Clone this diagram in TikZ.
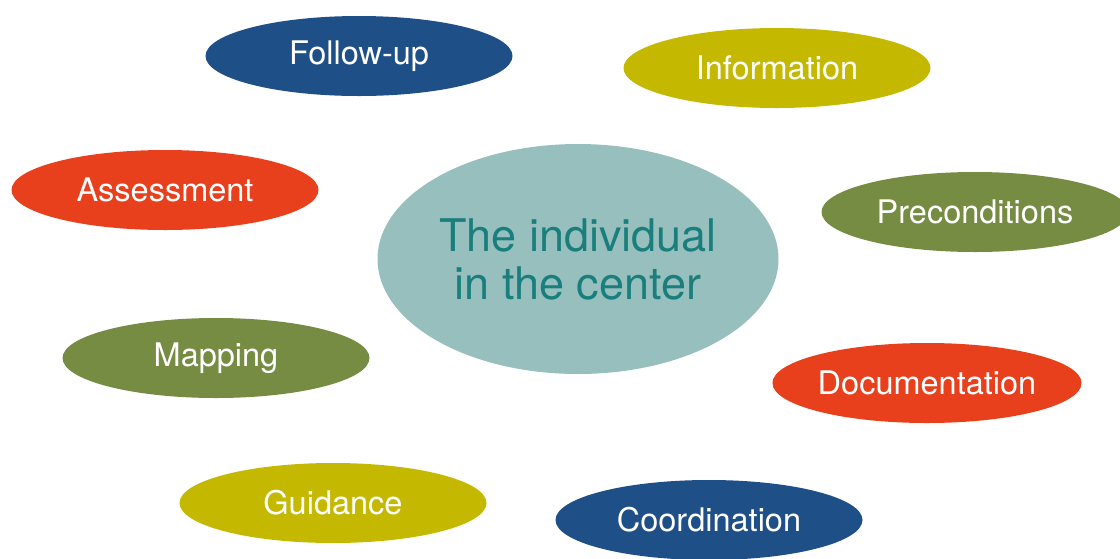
\documentclass[tikz,border=0pt]{standalone}
\usepackage{fontspec}
\setmainfont{TeX Gyre Heros}
\usepackage{tikz}
\usetikzlibrary{shapes.geometric,positioning}
\definecolor{ovblue}{HTML}{1F4F87}
\definecolor{ovyellow}{HTML}{C5B800}
\definecolor{ovred}{HTML}{E8401D}
\definecolor{ovgreen}{HTML}{768C42}
\definecolor{ovteal}{HTML}{96BFBE}
\definecolor{ovtealtext}{HTML}{1A7F7C}

\begin{document}
\begin{tikzpicture}[x=1pt, y=1pt]
\tikzstyle{task}=[ellipse, draw=none, inner sep=0pt, minimum width=307pt, minimum height=80pt,
  text=white, font=\fontsize{32.5}{38}\selectfont]
\useasboundingbox (0,0) rectangle (1120,-558);

% the core
\node[ellipse, fill=ovteal, inner sep=0pt, minimum width=401pt, minimum height=230pt,
  text=ovtealtext, align=center, font=\fontsize{45}{48}\selectfont] (center) at (578,-259)
  {The individual\\in the center};

% surrounding tasks
\node[task, fill=ovblue]   (followup) at (359,-56)  {Follow-up};
\node[task, fill=ovyellow] (info)     at (777,-68)  {Information};
\node[task, fill=ovred]    (assess)   at (165,-190) {Assessment};
\node[task, fill=ovgreen]  (precond)  at (975,-212) {Preconditions};
\node[task, fill=ovgreen]  (mapping)  at (216,-358) {Mapping};
\node[task, fill=ovred]    (docu)     at (927,-383) {Documentation};
\node[task, fill=ovyellow] (guide)    at (333,-503) {Guidance};
\node[task, fill=ovblue]   (coord)    at (709,-520) {Coordination};
\end{tikzpicture}
\end{document}
